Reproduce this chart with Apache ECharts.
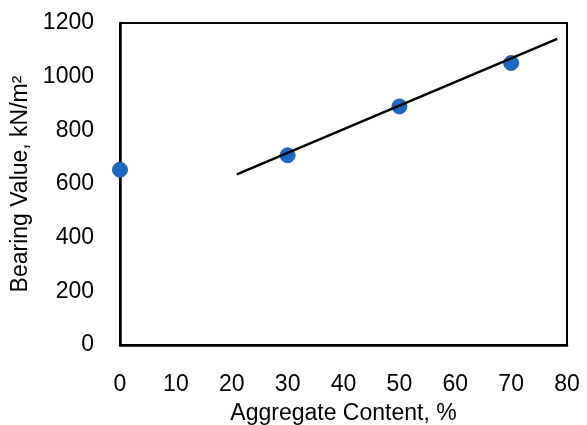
<!DOCTYPE html>
<html>
<head>
<meta charset="utf-8">
<script src="https://cdn.jsdelivr.net/npm/echarts@6/dist/echarts.min.js"></script>
<style>html,body{margin:0;padding:0;background:#fff}#c{width:587px;height:425px}</style>
</head>
<body>
<div id="c"></div>
<script>
var aggregate = [0, 30, 50, 70];
var bearing = [653, 707, 889, 1051];
var trendX = [20.9, 78.25];
var trendY = [636, 1141];
var xTicks = [0, 10, 20, 30, 40, 50, 60, 70, 80];
var yTicks = [0, 200, 400, 600, 800, 1000, 1200];

var font = 'Liberation Sans, Arial, sans-serif';
var chart = echarts.init(document.getElementById('c'), null, {renderer: 'canvas'});
chart.setOption({
  animation: false,
  grid: {left: 120, right: 20, top: 23, bottom: 80, outerBoundsMode: 'none', containLabel: false, show: true, borderColor: '#000', borderWidth: 2, backgroundColor: 'transparent'},
  xAxis: {
    type: 'value', min: xTicks[0], max: xTicks[xTicks.length - 1], interval: 10,
    name: 'Aggregate Content, %', nameLocation: 'middle', nameGap: 57,
    nameTextStyle: {fontFamily: font, fontSize: 23, color: '#000'},
    axisLine: {show: true, onZero: false, lineStyle: {color: '#000', width: 2.5}},
    axisTick: {show: false},
    splitLine: {show: false},
    axisLabel: {fontFamily: font, fontSize: 23, color: '#000', margin: 28, formatter: function (v) { return String(v); }}
  },
  yAxis: {
    type: 'value', min: yTicks[0], max: yTicks[yTicks.length - 1], interval: 200,
    name: 'Bearing Value, kN/m²', nameLocation: 'middle', nameGap: 74,
    nameTextStyle: {fontFamily: font, fontSize: 23, color: '#000'},
    axisLine: {show: true, lineStyle: {color: '#000', width: 2.5}},
    axisTick: {show: false},
    splitLine: {show: false},
    axisLabel: {fontFamily: font, fontSize: 23, color: '#000', margin: 26, formatter: function (v) { return String(v); }}
  },
  series: [
    {
      type: 'scatter',
      data: aggregate.map(function (x, i) { return [x, bearing[i]]; }),
      symbolSize: 15,
      itemStyle: {color: '#1c6ac6', borderColor: '#2a62a8', borderWidth: 1, opacity: 1},
      z: 2
    },
    {
      type: 'line',
      data: trendX.map(function (x, i) { return [x, trendY[i]]; }),
      showSymbol: false, symbol: 'none',
      lineStyle: {color: '#000', width: 2.5},
      z: 3
    }
  ]
});
</script>
</body>
</html>
